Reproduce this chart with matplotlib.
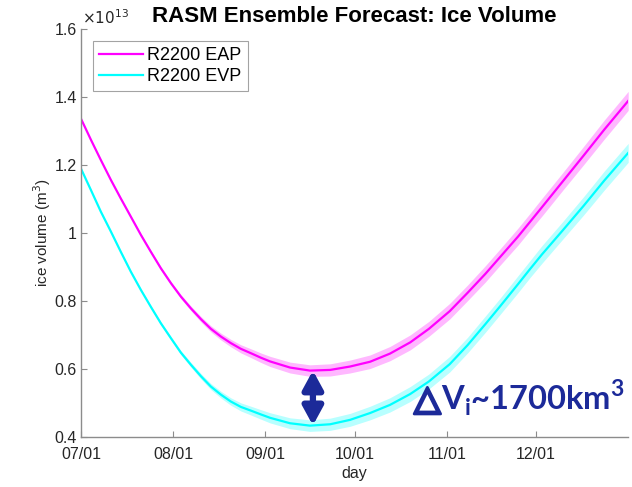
import numpy as np
import matplotlib
matplotlib.use('Agg')
import matplotlib.pyplot as plt
import matplotlib.patheffects as pe
from matplotlib.ticker import FuncFormatter

plt.rcParams['font.family'] = ['Liberation Sans', 'DejaVu Sans']

# day counted from 07/01, ice volume in units of 1e13 m^3
days = [0, 3.4, 6.7, 10.1, 13.4, 16.8, 20.2, 23.5, 26.9, 30.3, 33.6, 37.0, 40.4, 43.7,
        47.1, 50.4, 53.8, 57.2, 60.5, 63.6, 70.3, 77.0, 83.8, 90.5, 97.2, 103.9, 110.7,
        117, 124, 130, 136, 141, 147, 151, 155, 162, 169, 176, 184]
vol_eap = [1.337, 1.274, 1.215, 1.156, 1.102, 1.048, 0.994, 0.945, 0.896, 0.852, 0.813,
           0.778, 0.746, 0.718, 0.695, 0.676, 0.659, 0.646, 0.633, 0.622, 0.604, 0.595,
           0.597, 0.607, 0.621, 0.645, 0.678, 0.718, 0.770, 0.824, 0.880, 0.930, 0.990,
           1.033, 1.076, 1.152, 1.228, 1.305, 1.389]
vol_evp = [1.190, 1.126, 1.063, 1.004, 0.945, 0.886, 0.832, 0.783, 0.734, 0.690, 0.648,
           0.612, 0.578, 0.548, 0.524, 0.504, 0.488, 0.477, 0.466, 0.456, 0.440, 0.433,
           0.437, 0.450, 0.470, 0.494, 0.526, 0.563, 0.614, 0.670, 0.732, 0.785, 0.850,
           0.894, 0.937, 1.008, 1.080, 1.155, 1.236]
# ensemble spread (half width of the shaded band), same for both runs
spread = [0.002, 0.002, 0.002, 0.003, 0.003, 0.003, 0.004,
          0.004, 0.005, 0.005, 0.006, 0.007, 0.008, 0.009,
          0.010, 0.011, 0.012, 0.013, 0.014, 0.015,
          0.016, 0.017, 0.018, 0.019, 0.020, 0.021, 0.022,
          0.022, 0.023, 0.023, 0.024, 0.024, 0.025, 0.025, 0.026, 0.026, 0.027, 0.028, 0.028]

tick_days = [0, 31, 62, 92, 123, 153]
tick_labels = ['07/01', '08/01', '09/01', '10/01', '11/01', '12/01']
yticks = [0.4, 0.6, 0.8, 1.0, 1.2, 1.4, 1.6]

arrow_day = 78
navy = '#1c2a99'


def main():
    d = np.array(days, dtype=float)
    eap = np.array(vol_eap)
    evp = np.array(vol_evp)
    sp = np.array(spread)

    fig = plt.figure(figsize=(6.32, 4.87), dpi=100)
    ax = fig.add_axes([0.128, 0.103, 0.866, 0.837])

    ax.fill_between(d, eap - sp, eap + sp, color='#ff00ff', alpha=0.28, lw=0)
    ax.fill_between(d, evp - sp, evp + sp, color='#00ffff', alpha=0.28, lw=0)
    ax.plot(d, eap, color='#ff00ff', lw=1.6, label='R2200 EAP')
    ax.plot(d, evp, color='#00ffff', lw=1.6, label='R2200 EVP')

    ax.set_xlim(0, 184)
    ax.set_ylim(0.4, 1.6)
    ax.set_xticks(tick_days)
    ax.set_xticklabels(tick_labels)
    ax.set_yticks(yticks)
    ax.yaxis.set_major_formatter(FuncFormatter(lambda v, p: '%g' % v))

    for s in ['top', 'right']:
        ax.spines[s].set_visible(False)
    for s in ['left', 'bottom']:
        ax.spines[s].set_color('#8c8c8c')
        ax.spines[s].set_linewidth(1.0)
    ax.tick_params(direction='in', length=4, width=0.8, color='#8c8c8c',
                   labelcolor='#262626', labelsize=11.5)
    ax.tick_params(axis='x', pad=7)
    ax.tick_params(axis='y', pad=3)

    ax.set_xlabel('day', fontsize=11.5, color='#262626', labelpad=3)
    ax.set_ylabel('ice volume (m$^3$)', fontsize=11, color='#262626', labelpad=1)
    ax.set_title('RASM Ensemble Forecast: Ice Volume', fontsize=16, fontweight='bold', pad=5)
    ax.text(0.002, 1.005, r'$\times10^{13}$', transform=ax.transAxes, fontsize=11,
            color='#262626', ha='left', va='bottom')

    leg = ax.legend(loc='upper left', bbox_to_anchor=(0.022, 0.971), fontsize=13,
                    frameon=True, fancybox=False, handlelength=2.4, handletextpad=0.25,
                    borderpad=0.35, labelspacing=0.2, borderaxespad=0)
    leg.get_frame().set_edgecolor('#8c8c8c')
    leg.get_frame().set_linewidth(0.8)

    # double headed arrow between the two minima
    y_top = np.interp(arrow_day, d, eap)
    y_bot = np.interp(arrow_day, d, evp)
    ax.annotate('', xy=(arrow_day, y_top), xytext=(arrow_day, y_bot),
                arrowprops=dict(arrowstyle='<|-|>,head_length=0.55,head_width=0.3',
                                color=navy, lw=4.5, mutation_scale=20,
                                shrinkA=0, shrinkB=0))

    tri = ax.text(112.0, 0.48, '\u25b3', fontsize=25, fontweight='bold', color=navy,
                  family='DejaVu Sans', ha='left', va='baseline',
                  path_effects=[pe.withStroke(linewidth=2.0, foreground=navy)])
    ax.annotate('V$_\\mathregular{i}$~1700km$^\\mathregular{3}$', xy=(1, 0.48),
                xycoords=(tri, 'data'), xytext=(0, 0), textcoords='offset points',
                fontsize=23.5, fontweight='bold', color=navy, family='Lato',
                ha='left', va='baseline')

    fig.savefig('out.png', dpi=100)


if __name__ == '__main__':
    main()
